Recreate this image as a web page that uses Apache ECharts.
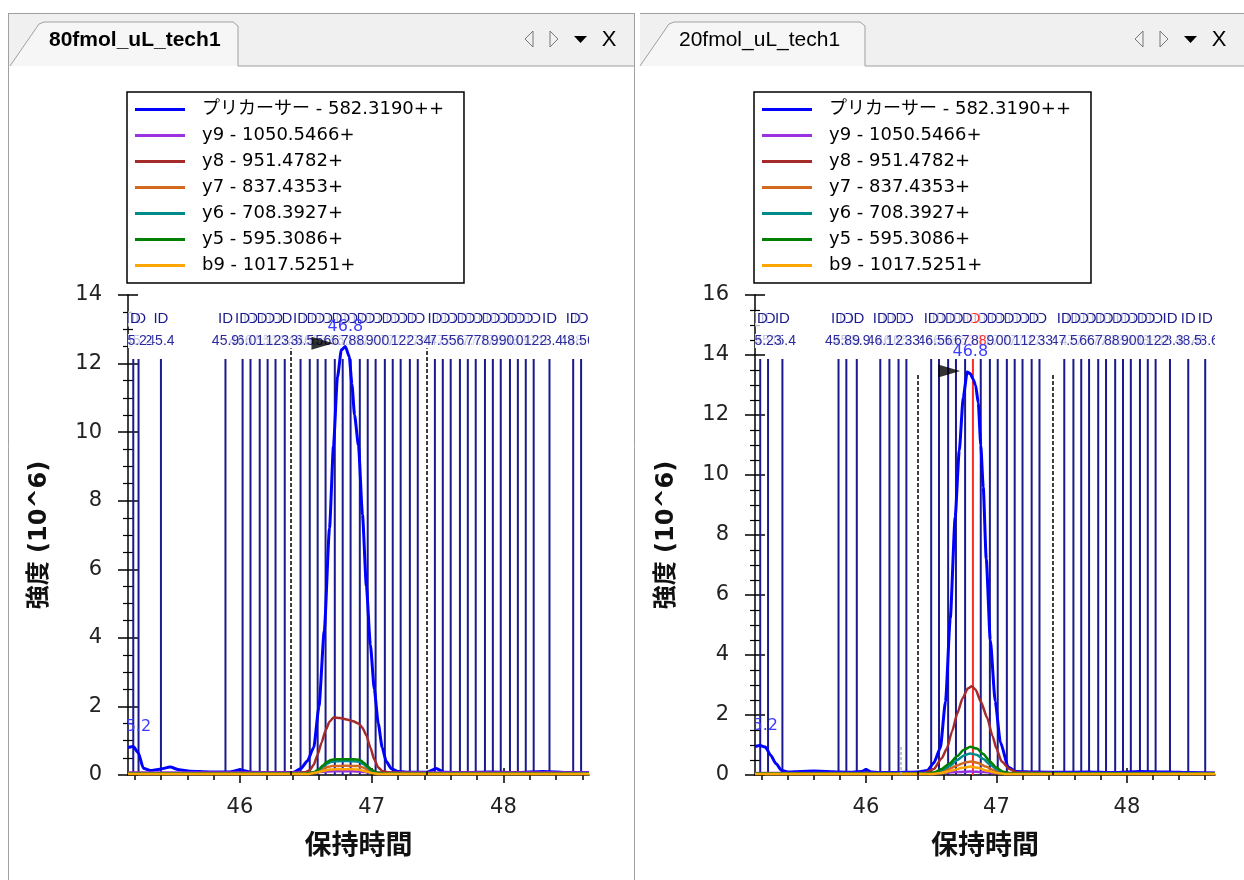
<!DOCTYPE html>
<html>
<head>
<meta charset="utf-8">
<title>chromatogram</title>
<script src="https://cdn.jsdelivr.net/npm/echarts@6.0.0/dist/echarts.min.js"></script>
<style>
html, body { margin: 0; padding: 0; background: #fff; }
#chartmain { width: 1244px; height: 880px; }
</style>
</head>
<body>
<div id="chartmain"></div>
<script>
// ---- data ----
var panelTitles = ['80fmol_uL_tech1', '20fmol_uL_tech1'];
var legendNames = ['プリカーサー - 582.3190++', 'y9 - 1050.5466+', 'y8 - 951.4782+', 'y7 - 837.4353+',
    'y6 - 708.3927+', 'y5 - 595.3086+', 'b9 - 1017.5251+'];
var xMajor = [46, 47, 48];
var xMinor = [45.2, 45.4, 45.6, 45.8, 46.2, 46.4, 46.6, 46.8, 47.2, 47.4, 47.6, 47.8, 48.2, 48.4, 48.6];
var yMax80 = 14;
var yMax20 = 16;

// 80fmol (left)
var pre80 = [[45.15, 0.8], [45.19, 0.83], [45.228, 0.65], [45.266, 0.2], [45.32, 0.13], [45.39, 0.17], [45.47, 0.23],
    [45.54, 0.15], [45.62, 0.11], [45.77, 0.09], [45.92, 0.09], [46.0, 0.15], [46.08, 0.08], [46.25, 0.07], [46.4, 0.07],
    [46.46, 0.18], [46.51, 0.4], [46.56, 0.8], [46.6, 2.0], [46.64, 4.2], [46.68, 7.2], [46.71, 9.6], [46.74, 11.6],
    [46.77, 12.4], [46.8, 12.5], [46.83, 12.2], [46.85, 11.4], [46.87, 10.5], [46.9, 9.6], [46.93, 7.6], [46.96, 5.5],
    [46.99, 3.8], [47.02, 2.5], [47.05, 1.5], [47.08, 0.8], [47.11, 0.4], [47.15, 0.18], [47.2, 0.1], [47.3, 0.08],
    [47.42, 0.08], [47.49, 0.19], [47.55, 0.08], [47.7, 0.07], [47.9, 0.09], [48.1, 0.07], [48.3, 0.1], [48.5, 0.07], [48.65, 0.07]];
var y9_80 = [[45.15, 0.07], [46.5, 0.07], [46.6, 0.09], [46.7, 0.11], [46.85, 0.11], [46.95, 0.09], [47.05, 0.07], [48.65, 0.07]];
var y8_80 = [[45.15, 0.06], [45.6, 0.05], [46.0, 0.06], [46.45, 0.06], [46.5, 0.09], [46.53, 0.14], [46.56, 0.3], [46.59, 0.6],
    [46.62, 0.95], [46.65, 1.3], [46.68, 1.55], [46.71, 1.68], [46.76, 1.66], [46.81, 1.62], [46.86, 1.57], [46.9, 1.5],
    [46.93, 1.38], [46.96, 1.15], [46.99, 0.8], [47.02, 0.45], [47.05, 0.22], [47.08, 0.12], [47.13, 0.07], [47.5, 0.05],
    [48.0, 0.06], [48.65, 0.05]];
var y7_80 = [[45.15, 0.05], [46.5, 0.05], [46.56, 0.07], [46.6, 0.12], [46.63, 0.18], [46.66, 0.23], [46.7, 0.26], [46.8, 0.27],
    [46.9, 0.26], [46.94, 0.21], [46.97, 0.15], [47.0, 0.09], [47.05, 0.05], [48.65, 0.05]];
var y6_80 = [[45.15, 0.04], [46.5, 0.04], [46.56, 0.07], [46.6, 0.15], [46.63, 0.25], [46.66, 0.33], [46.69, 0.38], [46.74, 0.4],
    [46.8, 0.41], [46.86, 0.4], [46.91, 0.38], [46.94, 0.31], [46.97, 0.22], [47.0, 0.13], [47.04, 0.06], [47.1, 0.04], [48.65, 0.04]];
var y5_80 = [[45.15, 0.04], [46.5, 0.04], [46.56, 0.08], [46.6, 0.17], [46.63, 0.28], [46.66, 0.38], [46.69, 0.44], [46.74, 0.46],
    [46.8, 0.46], [46.86, 0.46], [46.91, 0.44], [46.94, 0.36], [46.97, 0.25], [47.0, 0.15], [47.04, 0.07], [47.1, 0.04], [48.65, 0.04]];
var b9_80 = [[45.15, 0.03], [46.52, 0.03], [46.58, 0.07], [46.63, 0.12], [46.68, 0.16], [46.8, 0.17], [46.9, 0.16], [46.95, 0.11],
    [47.0, 0.06], [47.05, 0.03], [48.65, 0.03]];
var ids80 = [45.19, 45.23, 45.40, 45.89, 46.02, 46.08, 46.15, 46.21, 46.27, 46.34, 46.46, 46.53, 46.59, 46.65, 46.72, 46.78,
    46.84, 46.91, 46.97, 47.03, 47.10, 47.16, 47.22, 47.29, 47.35, 47.48, 47.54, 47.60, 47.67, 47.73, 47.79, 47.86, 47.92,
    47.98, 48.05, 48.11, 48.17, 48.23, 48.35, 48.53, 48.59];
var best80 = [];
var bounds80 = [46.387, 47.418];
var boundTop80 = 12.45;
var faint80 = [];
var apex80 = [[45.19, 0.83], [46.8, 12.5]];
var arrow80 = [[46.626, 12.59]];

// 20fmol (right)
var pre20 = [[45.15, 0.95], [45.19, 0.98], [45.23, 0.93], [45.27, 0.66], [45.31, 0.38], [45.355, 0.15], [45.4, 0.1], [45.5, 0.12],
    [45.6, 0.13], [45.7, 0.12], [45.8, 0.1], [45.9, 0.09], [45.97, 0.12], [46.0, 0.18], [46.04, 0.1], [46.1, 0.08], [46.2, 0.08],
    [46.3, 0.09], [46.4, 0.1], [46.47, 0.15], [46.52, 0.4], [46.57, 0.9], [46.61, 2.45], [46.646, 5.2], [46.684, 8.6],
    [46.715, 10.8], [46.746, 12.6], [46.776, 13.43], [46.8, 13.38], [46.82, 13.2], [46.84, 13.0], [46.861, 12.4], [46.88, 11.0],
    [46.899, 9.6], [46.922, 7.2], [46.953, 4.5], [46.991, 2.45], [47.03, 1.1], [47.09, 0.27], [47.15, 0.12], [47.3, 0.1],
    [47.5, 0.09], [47.7, 0.1], [47.9, 0.08], [48.1, 0.12], [48.3, 0.1], [48.5, 0.08], [48.675, 0.07]];
var y9_20 = [[45.15, 0.07], [46.55, 0.07], [46.7, 0.1], [46.8, 0.12], [46.9, 0.1], [47.0, 0.07], [48.675, 0.07]];
var y8_20 = [[45.15, 0.06], [45.8, 0.05], [46.3, 0.05], [46.45, 0.07], [46.52, 0.2], [46.58, 0.55], [46.62, 0.88], [46.66, 1.45],
    [46.7, 2.05], [46.74, 2.55], [46.78, 2.88], [46.81, 2.96], [46.84, 2.85], [46.88, 2.45], [46.93, 1.9], [46.97, 1.3],
    [47.0, 0.88], [47.04, 0.45], [47.1, 0.2], [47.16, 0.08], [47.6, 0.05], [48.675, 0.05]];
var y7_20 = [[45.15, 0.05], [46.48, 0.05], [46.55, 0.08], [46.62, 0.17], [46.7, 0.32], [46.76, 0.42], [46.81, 0.45], [46.86, 0.4],
    [46.92, 0.28], [46.98, 0.15], [47.05, 0.07], [47.12, 0.05], [48.675, 0.05]];
var y6_20 = [[45.15, 0.04], [46.45, 0.04], [46.52, 0.07], [46.58, 0.16], [46.64, 0.3], [46.7, 0.5], [46.75, 0.65], [46.8, 0.72],
    [46.85, 0.67], [46.9, 0.53], [46.95, 0.35], [47.0, 0.19], [47.05, 0.09], [47.12, 0.05], [48.675, 0.04]];
var y5_20 = [[45.15, 0.04], [46.45, 0.04], [46.52, 0.08], [46.58, 0.2], [46.64, 0.38], [46.7, 0.63], [46.75, 0.84], [46.8, 0.94],
    [46.85, 0.88], [46.9, 0.7], [46.95, 0.45], [47.0, 0.25], [47.05, 0.11], [47.12, 0.05], [48.675, 0.04]];
var b9_20 = [[45.15, 0.03], [46.5, 0.03], [46.58, 0.07], [46.66, 0.15], [46.74, 0.24], [46.8, 0.28], [46.86, 0.24], [46.93, 0.14],
    [47.0, 0.07], [47.08, 0.03], [48.675, 0.03]];
var ids20 = [45.19, 45.25, 45.36, 45.79, 45.85, 45.93, 46.11, 46.18, 46.25, 46.31, 46.50, 46.56, 46.63, 46.69, 46.76, 46.88,
    46.95, 47.01, 47.08, 47.14, 47.20, 47.27, 47.33, 47.52, 47.59, 47.65, 47.71, 47.78, 47.84, 47.91, 47.97, 48.03, 48.10,
    48.16, 48.22, 48.33, 48.47, 48.60];
var best20 = [46.82];
var bounds20 = [46.396, 47.433];
var boundTop20 = 13.4;
var faint20 = [[46.266, 1.0]];
var apex20 = [[45.19, 0.98], [46.8, 13.43]];
var arrow20 = [[46.638, 13.47]];

// ---- styles ----
var lineColors = ['#0000ff', '#9a32e0', '#a52a2a', '#d2691e', '#008b8b', '#008000', '#ffa500'];
var FONT = "'DejaVu Sans', 'Noto Sans CJK JP', sans-serif";
var LFONT = "'Liberation Sans', 'Noto Sans CJK JP', sans-serif";
var idColor = '#1a1a8c';

function idRender(params, api) {
    var t = api.value(0);
    var best = api.value(1) > 0.5;
    var base = api.coord([t, 0]);
    var top = params.coordSys.y;
    var col = best ? '#ff2a2a' : idColor;
    return {
        type: 'group',
        children: [
            { type: 'line', shape: { x1: base[0], y1: top + 64, x2: base[0], y2: base[1] },
              style: { stroke: col, lineWidth: 2 } },
            { type: 'text', style: { text: 'ID', x: base[0], y: top + 24, align: 'center', verticalAlign: 'middle',
              fill: col, font: '15px ' + LFONT, backgroundColor: 'rgba(255,255,255,0.72)' } },
            { type: 'text', style: { text: t.toFixed(1), x: base[0], y: top + 46, align: 'center', verticalAlign: 'middle',
              fill: best ? col : '#2a2a9e', font: '14px ' + LFONT, backgroundColor: 'rgba(255,255,255,0.72)' } }
        ]
    };
}

function apexRender(params, api) {
    var t = api.value(0);
    var p = api.coord([t, api.value(1)]);
    return {
        type: 'text',
        style: { text: t.toFixed(1), x: p[0], y: p[1] - 20, align: 'center', verticalAlign: 'middle',
                 fill: '#3c3cff', font: '16px ' + FONT }
    };
}

function panelSeries(g, lines, ids, best, bounds, boundTop, faint, apex, arrow) {
    var xi = g * 3, yi = g * 2;
    var out = [];
    // rightmost labels are drawn first so the ones on the left sit on top
    var idData = ids.map(function (t) { return [t, 0]; })
        .concat(best.map(function (t) { return [t, 1]; }))
        .sort(function (a, b) { return b[0] - a[0]; });
    out.push({
        type: 'custom', xAxisIndex: xi, yAxisIndex: yi, clip: true, silent: true, z: 1,
        data: idData, renderItem: idRender
    });
    var mlData = bounds.map(function (t) { return [{ coord: [t, 0] }, { coord: [t, boundTop] }]; });
    faint.forEach(function (p) {
        mlData.push([{ coord: [p[0], 0], lineStyle: { color: '#b0b0b0', type: [3, 2], width: 1.5 } }, { coord: [p[0], p[1]] }]);
    });
    lines.forEach(function (d, k) {
        var s = {
            name: legendNames[k], type: 'line', xAxisIndex: xi, yAxisIndex: yi, data: d,
            symbol: 'none', smooth: 0.2, smoothMonotone: 'x', z: 3,
            lineStyle: { color: lineColors[k], width: k === 0 ? 3 : 2.5 },
            itemStyle: { color: lineColors[k] }
        };
        if (k === 0) {
            s.markLine = {
                silent: true, symbol: 'none', animation: false, label: { show: false },
                lineStyle: { color: '#000', type: [4, 2], width: 1.5 },
                data: mlData
            };
        }
        out.push(s);
    });
    out.push({
        type: 'custom', xAxisIndex: xi, yAxisIndex: yi, clip: true, silent: true, z: 6,
        data: apex, renderItem: apexRender
    });
    out.push({
        type: 'scatter', xAxisIndex: xi, yAxisIndex: yi, data: arrow, silent: true, z: 7,
        symbol: 'triangle', symbolRotate: -90, symbolSize: [13, 22], itemStyle: { color: '#000' }
    });
    return out;
}

function xAxes(g, max) {
    var base = { gridIndex: g, type: 'value', min: 45.15, max: max, position: 'bottom', splitLine: { show: false } };
    var tickLine = { color: '#000', width: 1.5 };
    return [
        Object.assign({}, base, {
            axisLine: { show: true, lineStyle: { color: '#000', width: 1.5 } },
            axisTick: { show: true, customValues: xMajor, length: 8, lineStyle: tickLine },
            axisLabel: { customValues: xMajor, margin: 22, fontSize: 21, color: '#222', fontFamily: FONT },
            name: '保持時間', nameLocation: 'middle', nameGap: 58,
            nameTextStyle: { fontSize: 27, fontWeight: 'bold', color: '#111', fontFamily: FONT }
        }),
        Object.assign({}, base, {
            axisLine: { show: false },
            axisTick: { show: true, customValues: xMajor, inside: true, length: 7, lineStyle: tickLine },
            axisLabel: { show: false }
        }),
        Object.assign({}, base, {
            axisLine: { show: false },
            axisTick: { show: true, customValues: xMinor, length: 5, lineStyle: tickLine },
            axisLabel: { show: false }
        })
    ];
}

function yAxes(g, max) {
    var base = { gridIndex: g, type: 'value', min: 0, max: max, interval: 2, position: 'left', splitLine: { show: false } };
    var tickLine = { color: '#000', width: 1.5 };
    return [
        Object.assign({}, base, {
            axisLine: { show: true, lineStyle: { color: '#000', width: 1.5 } },
            axisTick: { show: true, length: 10, lineStyle: tickLine },
            minorTick: { show: true, splitNumber: 4, length: 5, lineStyle: { color: '#000', width: 1.2 } },
            axisLabel: { margin: 26, fontSize: 21, color: '#222', fontFamily: FONT },
            name: '強度 (10^6)', nameLocation: 'middle', nameGap: 76,
            nameTextStyle: { fontSize: 24, fontWeight: 'bold', color: '#111', fontFamily: FONT }
        }),
        Object.assign({}, base, {
            axisLine: { show: false },
            axisTick: { show: true, inside: true, length: 10, lineStyle: tickLine },
            minorTick: { show: true, splitNumber: 4, length: 5, lineStyle: { color: '#000', width: 1.2 } },
            axisLabel: { show: false }
        })
    ];
}

function legendAt(left) {
    return {
        left: left, top: 92, orient: 'vertical', data: legendNames, icon: 'rect',
        itemWidth: 50, itemHeight: 3, itemGap: 5, padding: [7, 20, 7, 8],
        borderColor: '#000', borderWidth: 1.5, backgroundColor: '#fff', selectedMode: false,
        textStyle: { fontSize: 18, lineHeight: 21, color: '#000', fontFamily: FONT, padding: [0, 0, 0, 12] }
    };
}

function tabGraphics(x0, x1, tabL, tabR, title, bold) {
    var gray = '#a0a0a0';
    var els = [];
    els.push({ type: 'rect', shape: { x: x0, y: 13, width: x1 - x0, height: 53 }, style: { fill: '#f0f0f0' }, silent: true });
    els.push({ type: 'polygon', shape: { points: [[tabL, 66], [tabL + 29, 24], [tabL + 34, 22], [tabR - 5, 22], [tabR, 26], [tabR, 66]] },
        style: { fill: '#f6f6f6' }, silent: true });
    els.push({ type: 'polyline', shape: { points: [[tabL, 66], [tabL + 29, 24], [tabL + 34, 22], [tabR - 5, 22], [tabR, 26], [tabR, 66], [x1, 66]] },
        style: { stroke: gray, lineWidth: 1, fill: null }, silent: true });
    els.push({ type: 'line', shape: { x1: x0, y1: 13.5, x2: x1, y2: 13.5 }, style: { stroke: gray, lineWidth: 1 }, silent: true });
    els.push({ type: 'text', style: { text: title, x: tabL + 39, y: 40, verticalAlign: 'middle',
        font: (bold ? 'bold ' : '') + '21px ' + LFONT, fill: '#000' }, silent: true });
    var ix = x1 - 109;
    els.push({ type: 'polygon', shape: { points: [[ix + 8, 31], [ix, 39], [ix + 8, 47]] }, style: { fill: null, stroke: '#777', lineWidth: 1 }, silent: true });
    els.push({ type: 'polygon', shape: { points: [[ix + 25, 31], [ix + 33, 39], [ix + 25, 47]] }, style: { fill: null, stroke: '#777', lineWidth: 1 }, silent: true });
    els.push({ type: 'polygon', shape: { points: [[ix + 49, 36], [ix + 62, 36], [ix + 55.5, 43]] }, style: { fill: '#000' }, silent: true });
    els.push({ type: 'text', style: { text: 'X', x: ix + 84, y: 40, align: 'center', verticalAlign: 'middle',
        font: '22px ' + LFONT, fill: '#000' }, silent: true });
    return els;
}

var chart = echarts.init(document.getElementById('chartmain'), null, { renderer: 'canvas', width: 1244, height: 880 });

var graphics = [].concat(
    tabGraphics(8, 634, 10, 238, panelTitles[0], true),
    tabGraphics(640, 1244, 640, 865, panelTitles[1], false),
    [
        { type: 'line', shape: { x1: 8.5, y1: 13, x2: 8.5, y2: 880 }, style: { stroke: '#a0a0a0', lineWidth: 1 }, silent: true },
        { type: 'line', shape: { x1: 634.5, y1: 13, x2: 634.5, y2: 880 }, style: { stroke: '#a0a0a0', lineWidth: 1 }, silent: true }
    ]
);

var option = {
    animation: false,
    backgroundColor: '#fff',
    grid: [
        { left: 128, top: 295, width: 461, height: 480 },
        { left: 755, top: 295, width: 460, height: 480 }
    ],
    legend: [legendAt(127), legendAt(754)],
    xAxis: [].concat(xAxes(0, 48.65), xAxes(1, 48.675)),
    yAxis: [].concat(yAxes(0, yMax80), yAxes(1, yMax20)),
    graphic: graphics,
    series: [].concat(
        panelSeries(0, [pre80, y9_80, y8_80, y7_80, y6_80, y5_80, b9_80], ids80, best80, bounds80, boundTop80, faint80, apex80, arrow80),
        panelSeries(1, [pre20, y9_20, y8_20, y7_20, y6_20, y5_20, b9_20], ids20, best20, bounds20, boundTop20, faint20, apex20, arrow20)
    )
};

chart.setOption(option);
</script>
</body>
</html>
